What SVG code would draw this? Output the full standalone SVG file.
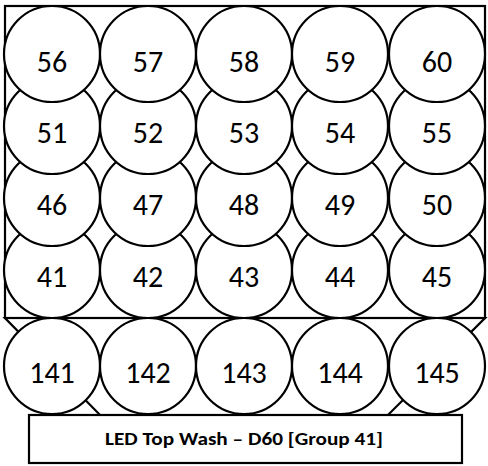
<svg xmlns="http://www.w3.org/2000/svg" width="488" height="466" viewBox="0 0 488 466">
<style>
.frame{fill:#fff;stroke:#000;stroke-width:2.2}
.c{fill:#fff;stroke:#000;stroke-width:2.2}
.t{font-family:Carlito,Lato,"Open Sans",sans-serif;font-size:30px;fill:#000;text-anchor:middle}
.lb{font-family:Carlito,Lato,"Open Sans",sans-serif;font-size:18px;font-weight:bold;fill:#000;text-anchor:middle}
</style>
<g id="frame">
<polygon class="frame" points="5,318 485,318 388,415 100,415"/>
<rect class="frame" x="5" y="6" width="480" height="312"/>
</g>
<g id="connectors"></g>
<g id="n141"><circle class="c" cx="52" cy="366" r="48"/><text class="t" x="52" y="383">141</text></g>
<g id="n142"><circle class="c" cx="148" cy="366" r="48"/><text class="t" x="148" y="383">142</text></g>
<g id="n143"><circle class="c" cx="244" cy="366" r="48"/><text class="t" x="244" y="383">143</text></g>
<g id="n144"><circle class="c" cx="340" cy="366" r="48"/><text class="t" x="340" y="383">144</text></g>
<g id="n145"><circle class="c" cx="437" cy="366" r="48"/><text class="t" x="437" y="383">145</text></g>
<g id="n41"><circle class="c" cx="52" cy="270" r="48"/><text class="t" x="52" y="287">41</text></g>
<g id="n42"><circle class="c" cx="148" cy="270" r="48"/><text class="t" x="148" y="287">42</text></g>
<g id="n43"><circle class="c" cx="244" cy="270" r="48"/><text class="t" x="244" y="287">43</text></g>
<g id="n44"><circle class="c" cx="340" cy="270" r="48"/><text class="t" x="340" y="287">44</text></g>
<g id="n45"><circle class="c" cx="437" cy="270" r="48"/><text class="t" x="437" y="287">45</text></g>
<g id="n46"><circle class="c" cx="52" cy="198" r="48"/><text class="t" x="52" y="215">46</text></g>
<g id="n47"><circle class="c" cx="148" cy="198" r="48"/><text class="t" x="148" y="215">47</text></g>
<g id="n48"><circle class="c" cx="244" cy="198" r="48"/><text class="t" x="244" y="215">48</text></g>
<g id="n49"><circle class="c" cx="340" cy="198" r="48"/><text class="t" x="340" y="215">49</text></g>
<g id="n50"><circle class="c" cx="437" cy="198" r="48"/><text class="t" x="437" y="215">50</text></g>
<g id="n51"><circle class="c" cx="52" cy="126" r="48"/><text class="t" x="52" y="143">51</text></g>
<g id="n52"><circle class="c" cx="148" cy="126" r="48"/><text class="t" x="148" y="143">52</text></g>
<g id="n53"><circle class="c" cx="244" cy="126" r="48"/><text class="t" x="244" y="143">53</text></g>
<g id="n54"><circle class="c" cx="340" cy="126" r="48"/><text class="t" x="340" y="143">54</text></g>
<g id="n55"><circle class="c" cx="437" cy="126" r="48"/><text class="t" x="437" y="143">55</text></g>
<g id="n56"><circle class="c" cx="52" cy="54" r="48"/><text class="t" x="52" y="72">56</text></g>
<g id="n57"><circle class="c" cx="148" cy="54" r="48"/><text class="t" x="148" y="72">57</text></g>
<g id="n58"><circle class="c" cx="244" cy="54" r="48"/><text class="t" x="244" y="72">58</text></g>
<g id="n59"><circle class="c" cx="340" cy="54" r="48"/><text class="t" x="340" y="72">59</text></g>
<g id="n60"><circle class="c" cx="437" cy="54" r="48"/><text class="t" x="437" y="72">60</text></g>
<g id="label"><rect class="frame" x="29" y="415" width="433" height="48"/><text class="lb" x="244" y="445" textLength="278" lengthAdjust="spacingAndGlyphs">LED Top Wash – D60 [Group 41]</text></g>
</svg>
